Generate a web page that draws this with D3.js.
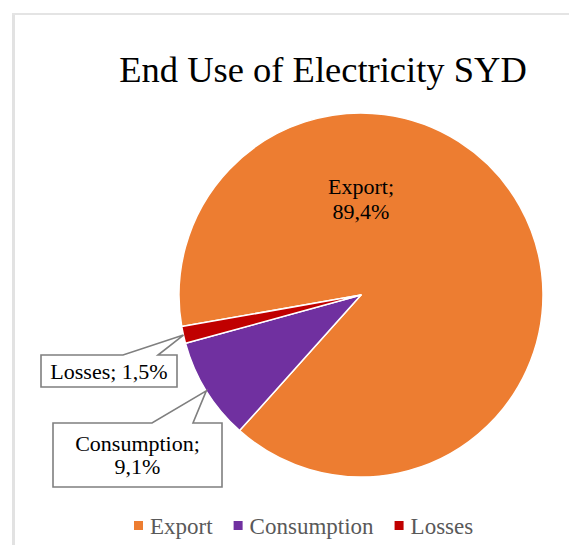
<!DOCTYPE html>
<html>
<head>
<meta charset="utf-8">
<script src="https://cdn.jsdelivr.net/npm/d3@7"></script>
<style>
  html, body { margin: 0; padding: 0; background: #fff; }
  svg { display: block; }
  text { font-family: "Liberation Serif", "Times New Roman", serif; }
</style>
</head>
<body>
<svg id="chart" width="569" height="545"></svg>
<script>
// Share of electricity end use, in percent
const categories = ["Export", "Consumption", "Losses"];
const shares = [89.4, 9.1, 1.5];
const shareLabels = ["89,4%", "9,1%", "1,5%"];
const colors = ["#ED7D31", "#7030A0", "#C00000"];
const titleText = "End Use of Electricity SYD";

const W = 569, H = 545;
const cx = 361, cy = 295, R = 182;
const firstSliceAngle = 260; // degrees, clockwise from 12 o'clock

const svg = d3.select("#chart");

// chart area frame (left and top edges)
svg.append("rect").attr("x", 12).attr("y", 13).attr("width", 3).attr("height", H - 13).attr("fill", "#e2e2e2");
svg.append("rect").attr("x", 12).attr("y", 13).attr("width", W - 12).attr("height", 2).attr("fill", "#e4e4e4");

// title
svg.append("text")
  .attr("x", 323).attr("y", 82)
  .attr("text-anchor", "middle")
  .attr("font-family", "'Liberation Serif', 'Times New Roman', serif")
  .attr("font-size", 36.5)
  .attr("fill", "#000")
  .text(titleText);

const data = categories.map((c, i) => ({ name: c, value: shares[i], label: shareLabels[i], color: colors[i] }));

const a0 = firstSliceAngle * Math.PI / 180;
const pie = d3.pie().sort(null).value(d => d.value).startAngle(a0).endAngle(a0 + 2 * Math.PI);
const arcs = pie(data);
const arc = d3.arc().innerRadius(0).outerRadius(R);
const rimArc = d3.arc().innerRadius(R).outerRadius(R);

const g = svg.append("g").attr("transform", `translate(${cx},${cy})`);
g.selectAll("path.slice")
  .data(arcs)
  .join("path")
  .attr("class", "slice")
  .attr("d", arc)
  .attr("fill", d => d.data.color)
  .attr("stroke", "#fff")
  .attr("stroke-width", 1.5)
  .attr("stroke-linejoin", "round");

const labelSize = 22;

// Export label inside the large slice
const exp = arcs[0];
const expText = g.append("text")
  .attr("text-anchor", "middle")
  .attr("font-size", labelSize)
  .attr("fill", "#000");
expText.append("tspan").attr("x", 0).attr("y", -R * 0.555).text(exp.data.name + ";");
expText.append("tspan").attr("x", 0).attr("y", -R * 0.555 + 25).text(exp.data.label);

// callout boxes for the small slices
const callouts = [
  { idx: 2, box: [41, 355, 177, 387], base: [123, 158], lines: [arcs[2].data.name + "; " + arcs[2].data.label] },
  { idx: 1, box: [53, 423, 222, 487], base: [152, 193], lines: [arcs[1].data.name + ";", arcs[1].data.label] }
];

callouts.forEach(c => {
  const [tx, ty] = rimArc.centroid(arcs[c.idx]);
  const tipX = cx + tx, tipY = cy + ty;
  const [x0, y0, x1, y1] = c.box;
  const p = d3.path();
  p.moveTo(x0, y0);
  p.lineTo(c.base[0], y0);
  p.lineTo(tipX, tipY);
  p.lineTo(c.base[1], y0);
  p.lineTo(x1, y0);
  p.lineTo(x1, y1);
  p.lineTo(x0, y1);
  p.closePath();
  svg.append("path")
    .attr("d", p.toString())
    .attr("fill", "#fff")
    .attr("stroke", "#7f7f7f")
    .attr("stroke-width", 1.6)
    .attr("stroke-linejoin", "miter");
  const t = svg.append("text")
    .attr("text-anchor", "middle")
    .attr("font-size", labelSize)
    .attr("fill", "#000");
  const midX = (x0 + x1) / 2;
  const lh = 23.5;
  const firstBase = (y0 + y1) / 2 + 7.5 - (c.lines.length - 1) * lh / 2;
  c.lines.forEach((s, i) => {
    t.append("tspan").attr("x", midX).attr("y", firstBase + i * lh).text(s);
  });
});

// legend
const legend = svg.append("g");
let lx = 134;
const ly = 534;
data.forEach(d => {
  legend.append("rect")
    .attr("x", lx).attr("y", ly - 13).attr("width", 9).attr("height", 9)
    .attr("fill", d.color);
  const t = legend.append("text")
    .attr("x", lx + 16).attr("y", ly)
    .attr("font-size", 23)
    .attr("fill", "#595959")
    .text(d.name);
  lx += 16 + t.node().getComputedTextLength() + 21;
});
</script>
</body>
</html>
